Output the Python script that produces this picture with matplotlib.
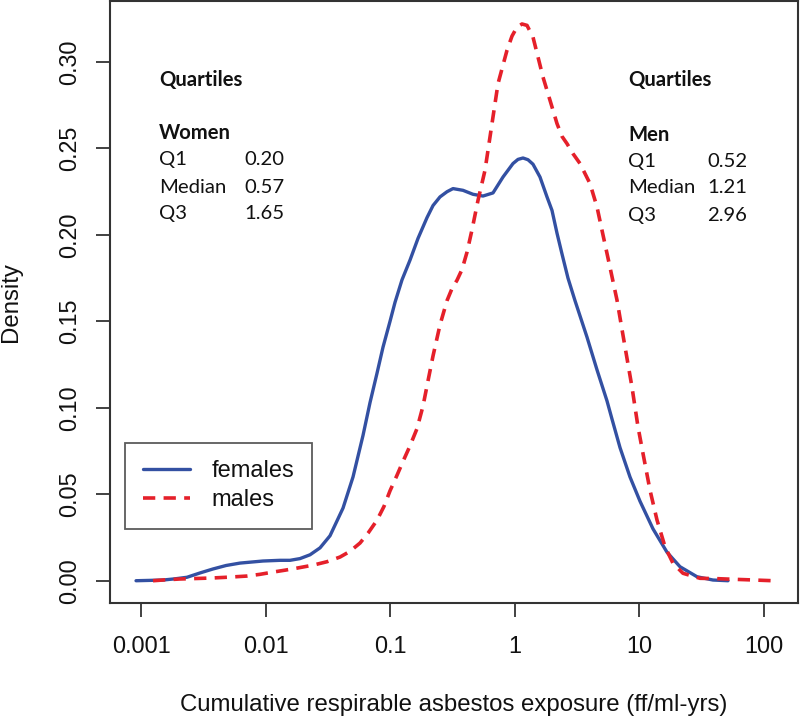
import matplotlib
matplotlib.use("Agg")
import matplotlib.pyplot as plt

# ---------------- data ----------------
female_x = [0.000912, 0.001181, 0.001502, 0.001875, 0.002339, 0.002976, 0.003783, 0.004811,
            0.00623, 0.00953, 0.013047, 0.015696, 0.018884, 0.022718, 0.02733, 0.032868,
            0.0418, 0.050285, 0.060478, 0.068847, 0.078343, 0.087552, 0.099632, 0.10927,
            0.12433, 0.14413, 0.16717, 0.19735, 0.2206, 0.25102, 0.2857, 0.31917,
            0.38398, 0.46196, 0.55566, 0.66839, 0.80412, 0.96725, 1.061, 1.1637,
            1.2764, 1.3998, 1.5928, 1.813, 1.9886, 2.1815, 2.3922, 2.673, 3.0417,
            3.7972, 4.5672, 5.4954, 6.0274, 6.9886, 8.4053, 10.111, 12.857, 16.65,
            21.18, 28.999, 38.96, 51.42]
female_y = [0.0, 0.0002, 0.0004, 0.0011, 0.0020, 0.0045, 0.0068, 0.0088,
            0.0102, 0.0114, 0.0118, 0.0118, 0.0128, 0.0150, 0.0190, 0.0260,
            0.0420, 0.0600, 0.0840, 0.1030, 0.1200, 0.1351, 0.1500, 0.1610,
            0.1740, 0.1854, 0.1980, 0.2100, 0.2170, 0.2220, 0.2250, 0.2268,
            0.2258, 0.2235, 0.2225, 0.2243, 0.2335, 0.2413, 0.2437, 0.2445,
            0.2435, 0.2409, 0.2335, 0.2220, 0.2142, 0.2010, 0.1890, 0.1750, 0.1620,
            0.1409, 0.1220, 0.1040, 0.0935, 0.0770, 0.0600, 0.0460, 0.0300, 0.0165,
            0.0081, 0.0023, 0.0004, 0.0]

male_x = [0.001248, 0.001558, 0.002056, 0.002814, 0.003783, 0.00518, 0.00709, 0.009017,
          0.011467, 0.01431, 0.017865, 0.024015, 0.0311, 0.039547, 0.047573, 0.057228,
          0.06635, 0.078343, 0.089163, 0.099632, 0.11338, 0.12664, 0.14413, 0.16411,
          0.18331, 0.20108, 0.2206, 0.25102, 0.2857, 0.31333, 0.34366, 0.37697,
          0.41337, 0.45349, 0.50658, 0.5765, 0.65617, 0.73321, 0.86568, 0.94955,
          1.0415, 1.1424, 1.253, 1.3998, 1.5352, 1.6839, 1.9163, 2.1815, 2.3922,
          2.6241, 2.9312, 3.3365, 4.0133, 4.5672, 5.1036, 5.8076, 6.6114, 7.3857,
          8.72, 9.7454, 10.688, 12.165, 13.848, 16.05, 18.61, 22.38, 30.64, 41.96,
          53.35, 70.4, 118.1]
male_y = [0.0, 0.0005, 0.0010, 0.0013, 0.0016, 0.0021, 0.0027, 0.0037,
          0.0050, 0.0061, 0.0073, 0.0090, 0.0110, 0.0137, 0.0170, 0.0218,
          0.0275, 0.0350, 0.0430, 0.0520, 0.0610, 0.0690, 0.0780, 0.0880,
          0.1010, 0.1156, 0.1300, 0.1480, 0.1620, 0.1690, 0.1738, 0.1800,
          0.1900, 0.2030, 0.2200, 0.2374, 0.2644, 0.2875, 0.3068, 0.3150,
          0.3202, 0.3220, 0.3212, 0.3144, 0.3029, 0.2913, 0.2779, 0.2644, 0.2570,
          0.2528, 0.2470, 0.2413, 0.2297, 0.2162, 0.2000, 0.1813, 0.1623, 0.1420,
          0.1120, 0.0890, 0.0736, 0.0524, 0.0351, 0.0197, 0.0101, 0.0043, 0.0014, 0.0012,
          0.0009, 0.0006, 0.0]

series_labels = ["females", "males"]

x_ticks = [0.001, 0.01, 0.1, 1, 10, 100]
x_tick_labels = ["0.001", "0.01", "0.1", "1", "10", "100"]
y_ticks = [0.00, 0.05, 0.10, 0.15, 0.20, 0.25, 0.30]
y_tick_labels = ["0.00", "0.05", "0.10", "0.15", "0.20", "0.25", "0.30"]

quart_names = ["Q1", "Median", "Q3"]
women_quartiles = ["0.20", "0.57", "1.65"]
men_quartiles = ["0.52", "1.21", "2.96"]

x_label = "Cumulative respirable asbestos exposure (ff/ml-yrs)"
y_label = "Density"

# ---------------- styling ----------------
BLUE = "#3350A2"
RED = "#E5202A"
SPINE = "#333333"
AXFONT = "Liberation Sans"
TXTFONT = "Lato"

plt.rcParams["font.family"] = [AXFONT, "DejaVu Sans"]

fig = plt.figure(figsize=(8.0, 7.19), dpi=100)
ax = fig.add_axes([0.1375, 0.1613, 0.86, 0.8373])

ax.plot(female_x, female_y, color=BLUE, lw=2.4, solid_joinstyle="round",
        solid_capstyle="round", label=series_labels[0], zorder=3)
ax.plot(male_x, male_y, color=RED, lw=2.6, linestyle=(0, (3.4, 2.3)),
        dash_capstyle="butt", dash_joinstyle="round", label=series_labels[1], zorder=4)

ax.set_xscale("log")
ax.set_xlim(10 ** -3.249, 10 ** 2.273)
ax.set_ylim(-0.0129, 0.3353)

ax.set_xticks(x_ticks)
ax.set_xticklabels(x_tick_labels)
ax.xaxis.set_minor_locator(matplotlib.ticker.NullLocator())
ax.set_yticks(y_ticks)
ax.set_yticklabels(y_tick_labels, rotation=90, va="center")

ax.tick_params(axis="both", direction="out", length=10, width=1.3,
               color=SPINE, labelsize=16.8, labelcolor="#111111")
ax.tick_params(axis="x", pad=13)
ax.tick_params(axis="y", pad=11)

for s in ax.spines.values():
    s.set_color(SPINE)
    s.set_linewidth(1.5)

ax.set_xlabel(x_label, fontsize=17.3, color="#111111")
ax.xaxis.set_label_coords(0.5, -0.169)
ax.xaxis.label.set_va("center")
ax.set_ylabel(y_label, fontsize=17.3, color="#111111")
ax.yaxis.set_label_coords(-0.144, 0.5)
ax.yaxis.label.set_va("center")

leg = ax.legend(loc="lower left", bbox_to_anchor=(0.0218, 0.1229),
                borderaxespad=0, fontsize=17, frameon=True, fancybox=False,
                handlelength=2.0, handletextpad=0.9, borderpad=0.75,
                labelspacing=0.3)
leg.get_frame().set_edgecolor(SPINE)
leg.get_frame().set_linewidth(1.3)
for t in leg.get_texts():
    t.set_color("#111111")

# Quartile annotations
def quart_block(x0, xv, y_title, y_group, y_rows, group, values):
    kw = dict(transform=ax.transAxes, fontsize=14.6, family=TXTFONT,
              va="center", ha="left", color="#111111")
    ax.text(x0, y_title, "Quartiles", fontweight="bold", **kw)
    ax.text(x0, y_group, group, fontweight="bold", **kw)
    for name, val, yy in zip(quart_names, values, y_rows):
        ax.text(x0, yy, name, **kw)
        ax.text(xv, yy, val, **kw)

quart_block(0.0712, 0.1948, 0.8688, 0.7807, [0.7359, 0.6910, 0.6478], "Women", women_quartiles)
quart_block(0.7529, 0.8677, 0.8688, 0.7774, [0.7326, 0.6894, 0.6445], "Men", men_quartiles)

fig.savefig("out.png", dpi=100, facecolor="white")
